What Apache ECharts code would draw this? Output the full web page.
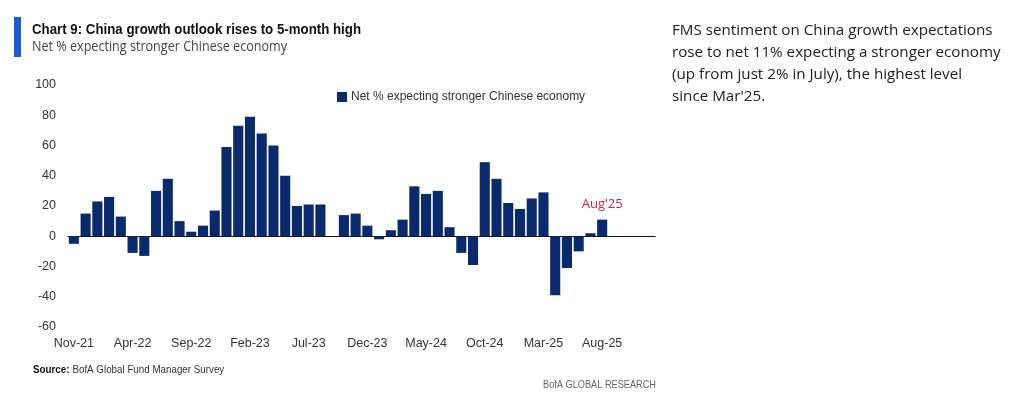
<!DOCTYPE html>
<html>
<head>
<meta charset="utf-8">
<script src="https://cdn.jsdelivr.net/npm/echarts@6/dist/echarts.min.js"></script>
<style>
  html, body { margin: 0; padding: 0; background: #fff; }
  #chart { width: 1024px; height: 399px; }
</style>
</head>
<body>
<div id="chart"></div>
<script>
// monthly survey, Nov-21 .. Aug-25, plus empty months to pad the axis
const months = [
  "Nov-21", "Dec-21", "Jan-22", "Feb-22", "Mar-22", "Apr-22", "May-22", "Jun-22",
  "Jul-22", "Aug-22", "Sep-22", "Oct-22", "Nov-22", "Dec-22", "Jan-23", "Feb-23",
  "Mar-23", "Apr-23", "May-23", "Jun-23", "Jul-23", "Aug-23", "Sep-23", "Oct-23",
  "Nov-23", "Dec-23", "Jan-24", "Feb-24", "Mar-24", "Apr-24", "May-24", "Jun-24",
  "Jul-24", "Aug-24", "Sep-24", "Oct-24", "Nov-24", "Dec-24", "Jan-25", "Feb-25",
  "Mar-25", "Apr-25", "May-25", "Jun-25", "Jul-25", "Aug-25",
  "Sep-25", "Oct-25", "Nov-25", "Dec-25",
];
const netStronger = [
  -5, 15, 23, 26, 13, -11, -13, 30,
  38, 10, 3, 7, 17, 59, 73, 79,
  68, 60, 40, 20, 21, 21, null, 14,
  15, 7, -2, 4, 11, 33, 28, 30,
  6, -11, -19, 49, 38, 22, 18, 25,
  29, -39, -21, -10, 2, 11,
  null, null, null, null,
];
const yTicks = { min: -60, max: 100, interval: 20 };
const seriesName = "Net % expecting stronger Chinese economy";
const calloutMonth = "Aug-25";
const calloutText = "Aug'25";

const navy = "#0a2a6e";
const sans = "'Liberation Sans', Arial, sans-serif";

// squeeze a text to a target pixel width (the original uses a condensed face)
const measureCtx = document.createElement("canvas").getContext("2d");
function squeeze(text, font, width) {
  measureCtx.font = font;
  return width / measureCtx.measureText(text).width;
}

const titleText = "Chart 9: China growth outlook rises to 5-month high";
const titleFont = "bold 15px " + sans;
const subText = "Net % expecting stronger Chinese economy";
const subFont = "14px 'Open Sans', sans-serif";
const srcFontB = "bold 11px " + sans;
const srcFontN = "11px " + sans;
const footText = "BofA GLOBAL RESEARCH";
const footFont = "11px " + sans;

const barData = netStronger.map((v, i) => {
  if (months[i] !== calloutMonth) return v;
  return {
    value: v,
    label: {
      show: true,
      position: "top",
      distance: 9,
      formatter: calloutText,
      color: "#d81f45",
      fontFamily: "Open Sans",
      fontSize: 13,
    },
  };
});

const chart = echarts.init(document.getElementById("chart"), null, { renderer: "canvas" });

measureCtx.font = srcFontB;
const srcW = measureCtx.measureText("Source: ").width;
measureCtx.font = srcFontN;
const srcTotal = srcW + measureCtx.measureText("BofA Global Fund Manager Survey").width;

chart.setOption({
  animation: false,
  backgroundColor: "#fff",
  graphic: [
    { type: "rect", shape: { x: 14, y: 17, width: 7, height: 40 }, style: { fill: "#1a5ad6" } },
    {
      type: "text", x: 32, y: 22, scaleX: squeeze(titleText, titleFont, 329),
      style: { text: titleText, font: titleFont, fill: "#111" },
    },
    {
      type: "text", x: 32, y: 40, scaleX: squeeze(subText, subFont, 255),
      style: { text: subText, font: subFont, fill: "#444" },
    },
    {
      type: "text", x: 672, y: 20,
      style: {
        text: "FMS sentiment on China growth expectations\nrose to net 11% expecting a stronger economy\n(up from just 2% in July), the highest level\nsince Mar'25.",
        font: "15.2px 'Open Sans', sans-serif", lineHeight: 21.8, fill: "#222",
      },
    },
    {
      type: "text", x: 33, y: 364, scaleX: 191 / srcTotal,
      style: {
        rich: {
          b: { font: srcFontB, fill: "#111" },
          n: { font: srcFontN, fill: "#333" },
        },
        text: "{b|Source:} {n|BofA Global Fund Manager Survey}",
      },
    },
    {
      type: "text", x: 543, y: 379, scaleX: squeeze(footText, footFont, 113),
      style: { text: footText, font: footFont, fill: "#666" },
    },
  ],
  legend: {
    left: 332, top: 86,
    itemWidth: 10, itemHeight: 10, itemGap: 4,
    icon: "rect",
    textStyle: { fontFamily: "Liberation Sans", fontSize: 12, color: "#333", padding: [0, 0, 0, -1] },
    data: [seriesName],
  },
  grid: { left: 68, right: 369, top: 85, bottom: 72 },
  xAxis: {
    type: "category",
    data: months,
    axisTick: { show: false },
    axisLine: { onZero: true, lineStyle: { color: "#111", width: 1 } },
    axisLabel: {
      interval: 4,
      color: "#333",
      fontFamily: "Liberation Sans",
      fontSize: 12.5,
      margin: 10,
    },
  },
  yAxis: {
    type: "value",
    min: yTicks.min,
    max: yTicks.max,
    interval: yTicks.interval,
    splitLine: { show: false },
    axisLine: { show: false },
    axisTick: { show: false },
    axisLabel: { color: "#333", fontFamily: "Liberation Sans", fontSize: 12.5, margin: 12 },
  },
  series: [
    {
      name: seriesName,
      type: "bar",
      data: barData,
      barCategoryGap: "14%",
      itemStyle: { color: navy },
    },
  ],
});
</script>
</body>
</html>
